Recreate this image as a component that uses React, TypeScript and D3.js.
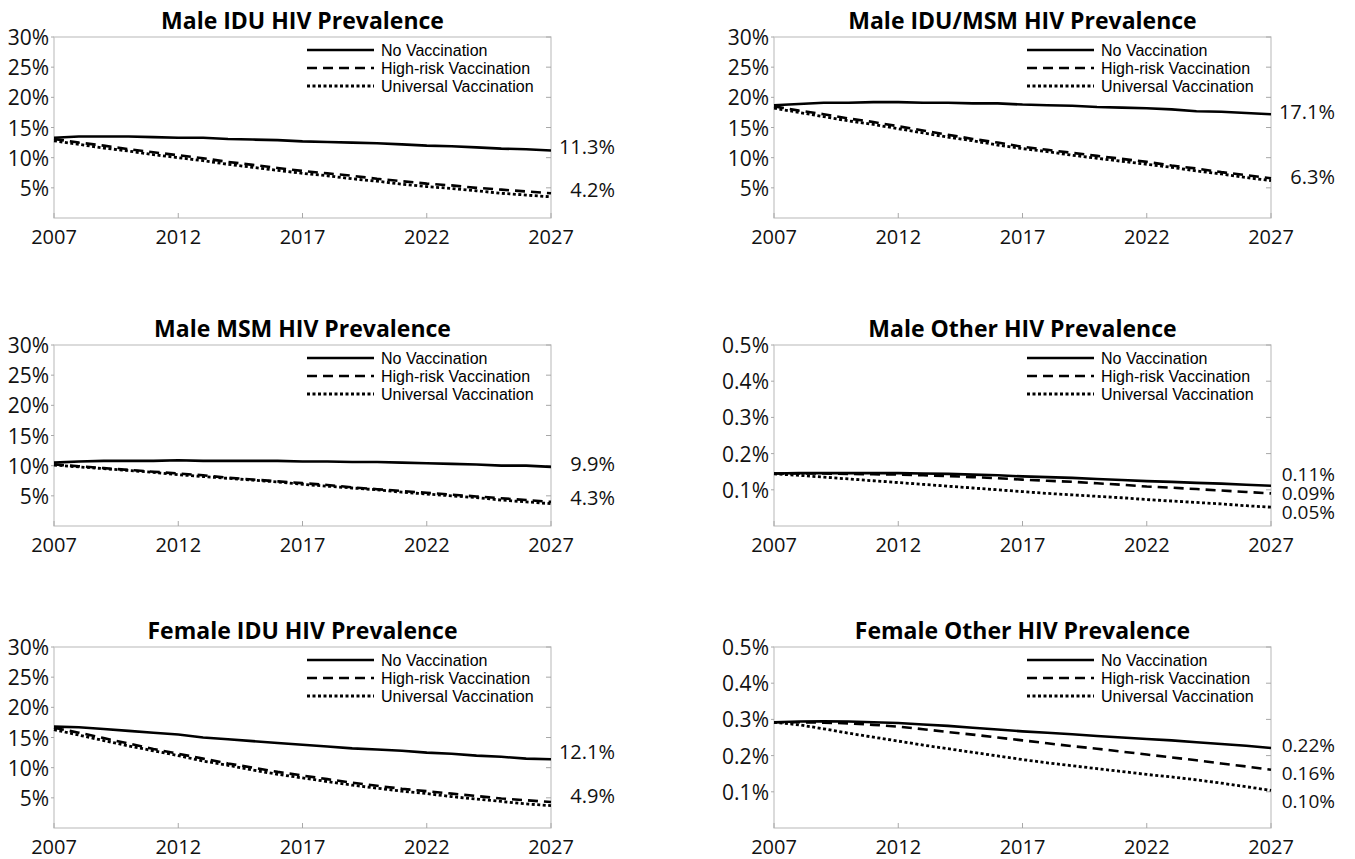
import * as d3 from 'd3';

// years of the projection
const years = [2007, 2008, 2009, 2010, 2011, 2012, 2013, 2014, 2015, 2016, 2017,
  2018, 2019, 2020, 2021, 2022, 2023, 2024, 2025, 2026, 2027];
const xTickYears = [2007, 2012, 2017, 2022, 2027];
const yTicksHigh = [5, 10, 15, 20, 25, 30];
const yTicksLow = [0.1, 0.2, 0.3, 0.4, 0.5];
const seriesNames = ['No Vaccination', 'High-risk Vaccination', 'Universal Vaccination'];

// prevalence in percent
const maleIduNone = [13.3, 13.5, 13.5, 13.5, 13.4, 13.3, 13.3, 13.1, 13.0, 12.9, 12.7, 12.6, 12.5, 12.4, 12.2, 12.0, 11.9, 11.7, 11.5, 11.4, 11.2];
const maleIduHigh = [13.1, 12.5, 12.0, 11.4, 10.9, 10.4, 9.9, 9.3, 8.8, 8.3, 7.8, 7.4, 7.0, 6.5, 6.1, 5.7, 5.4, 5.0, 4.7, 4.4, 4.1];
const maleIduUniv = [12.8, 12.2, 11.6, 11.1, 10.5, 10.0, 9.5, 8.9, 8.4, 7.9, 7.4, 7.0, 6.5, 6.1, 5.6, 5.2, 4.9, 4.5, 4.1, 3.8, 3.5];
const maleIduEnd = [11.3, 4.2];

const maleIduMsmNone = [18.7, 18.9, 19.1, 19.1, 19.2, 19.2, 19.1, 19.1, 19.0, 19.0, 18.8, 18.7, 18.6, 18.4, 18.3, 18.2, 18.0, 17.7, 17.6, 17.4, 17.2];
const maleIduMsmHigh = [18.5, 17.8, 17.2, 16.5, 15.9, 15.2, 14.5, 13.8, 13.1, 12.5, 11.8, 11.3, 10.8, 10.3, 9.8, 9.3, 8.7, 8.2, 7.6, 7.1, 6.6];
const maleIduMsmUniv = [18.2, 17.5, 16.8, 16.1, 15.5, 14.8, 14.1, 13.4, 12.8, 12.1, 11.5, 11.0, 10.4, 9.9, 9.4, 8.9, 8.4, 7.8, 7.3, 6.7, 6.2];
const maleIduMsmEnd = [17.1, 6.3];

const maleMsmNone = [10.5, 10.7, 10.8, 10.8, 10.8, 10.9, 10.8, 10.8, 10.8, 10.8, 10.7, 10.7, 10.6, 10.6, 10.5, 10.4, 10.3, 10.2, 10.0, 10.0, 9.8];
const maleMsmHigh = [10.2, 9.9, 9.6, 9.3, 9.0, 8.7, 8.4, 8.0, 7.7, 7.4, 7.1, 6.8, 6.4, 6.1, 5.8, 5.5, 5.2, 4.9, 4.6, 4.3, 4.0];
const maleMsmUniv = [10.1, 9.8, 9.5, 9.2, 8.9, 8.5, 8.2, 7.9, 7.6, 7.3, 6.9, 6.6, 6.3, 6.0, 5.6, 5.3, 5.0, 4.7, 4.3, 4.0, 3.7];
const maleMsmEnd = [9.9, 4.3];

const maleOtherNone = [0.145, 0.146, 0.146, 0.146, 0.146, 0.146, 0.145, 0.144, 0.142, 0.140, 0.137, 0.135, 0.133, 0.130, 0.127, 0.124, 0.122, 0.119, 0.117, 0.114, 0.111];
const maleOtherHigh = [0.145, 0.145, 0.145, 0.144, 0.143, 0.142, 0.140, 0.138, 0.135, 0.132, 0.128, 0.125, 0.122, 0.118, 0.114, 0.109, 0.106, 0.102, 0.098, 0.094, 0.090];
const maleOtherUniv = [0.144, 0.140, 0.135, 0.130, 0.125, 0.120, 0.115, 0.110, 0.105, 0.100, 0.095, 0.090, 0.086, 0.082, 0.078, 0.073, 0.069, 0.065, 0.061, 0.056, 0.052];
const maleOtherEnd = [0.11, 0.09, 0.05];

const femaleIduNone = [16.8, 16.7, 16.4, 16.1, 15.8, 15.5, 15.0, 14.7, 14.4, 14.1, 13.8, 13.5, 13.2, 13.0, 12.8, 12.5, 12.3, 12.0, 11.8, 11.5, 11.4];
const femaleIduHigh = [16.6, 15.8, 14.9, 14.0, 13.1, 12.3, 11.5, 10.7, 10.0, 9.3, 8.7, 8.1, 7.5, 7.0, 6.5, 6.1, 5.7, 5.3, 4.9, 4.6, 4.3];
const femaleIduUniv = [16.3, 15.4, 14.5, 13.6, 12.8, 12.0, 11.1, 10.4, 9.6, 8.9, 8.3, 7.7, 7.1, 6.6, 6.1, 5.7, 5.2, 4.8, 4.4, 4.0, 3.7];
const femaleIduEnd = [12.1, 4.9];

const femaleOtherNone = [0.292, 0.294, 0.295, 0.294, 0.292, 0.290, 0.286, 0.282, 0.277, 0.272, 0.267, 0.263, 0.259, 0.254, 0.250, 0.246, 0.242, 0.237, 0.232, 0.227, 0.221];
const femaleOtherHigh = [0.292, 0.292, 0.291, 0.289, 0.285, 0.280, 0.273, 0.265, 0.258, 0.250, 0.242, 0.234, 0.226, 0.219, 0.211, 0.203, 0.195, 0.187, 0.178, 0.170, 0.161];
const femaleOtherUniv = [0.292, 0.285, 0.274, 0.262, 0.251, 0.240, 0.229, 0.219, 0.209, 0.199, 0.189, 0.180, 0.172, 0.164, 0.156, 0.148, 0.141, 0.133, 0.124, 0.114, 0.104];
const femaleOtherEnd = [0.22, 0.16, 0.10];

const panels = [
  { title: 'Male IDU HIV Prevalence', ticks: yTicksHigh, series: [maleIduNone, maleIduHigh, maleIduUniv], end: maleIduEnd, dec: 1, gap: 18, pushDown: false },
  { title: 'Male IDU/MSM HIV Prevalence', ticks: yTicksHigh, series: [maleIduMsmNone, maleIduMsmHigh, maleIduMsmUniv], end: maleIduMsmEnd, dec: 1, gap: 18, pushDown: false },
  { title: 'Male MSM HIV Prevalence', ticks: yTicksHigh, series: [maleMsmNone, maleMsmHigh, maleMsmUniv], end: maleMsmEnd, dec: 1, gap: 18, pushDown: false },
  { title: 'Male Other HIV Prevalence', ticks: yTicksLow, series: [maleOtherNone, maleOtherHigh, maleOtherUniv], end: maleOtherEnd, dec: 2, gap: 19, pushDown: false },
  { title: 'Female IDU HIV Prevalence', ticks: yTicksHigh, series: [femaleIduNone, femaleIduHigh, femaleIduUniv], end: femaleIduEnd, dec: 1, gap: 18, pushDown: false },
  { title: 'Female Other HIV Prevalence', ticks: yTicksLow, series: [femaleOtherNone, femaleOtherHigh, femaleOtherUniv], end: femaleOtherEnd, dec: 2, gap: 28, pushDown: true },
];

const colLeft = [54, 774];
const rowTop = [37, 345, 647];
const plotW = 497;
const plotH = 181;
const dashes = [null, '10,6', '3,2.5'];
const tickFont = "'Open Sans', sans-serif";

// keep end labels apart; either keep their mean or only push the lower ones down
function dodge(pos: number[], gap: number, pushDown: boolean) {
  const p = pos.slice();
  for (let i = 1; i < p.length; i++) if (p[i] < p[i - 1] + gap) p[i] = p[i - 1] + gap;
  if (pushDown) return p;
  const shift = d3.mean(pos)! - d3.mean(p)!;
  return p.map((v) => v + shift);
}

function Panel({ cfg, left, top }: any) {
  const x = d3.scaleLinear().domain([2007, 2027]).range([left, left + plotW]);
  const maxY = cfg.ticks[cfg.ticks.length - 1];
  const y = d3.scaleLinear().domain([0, maxY]).range([top + plotH, top]);
  const line = d3.line<number>().x((_, i) => x(years[i])).y((d) => y(d));
  const labelY = dodge(cfg.end.map((v: number) => y(v) - 3), cfg.gap, cfg.pushDown);
  const bottom = top + plotH;
  const right = left + plotW;
  return (
    <g>
      <text x={left + plotW / 2} y={top - 17} textAnchor="middle" dominantBaseline="central"
        fontFamily={tickFont} fontWeight={700} fontSize={23} fill="#000">{cfg.title}</text>
      <rect x={left} y={top} width={plotW} height={plotH} fill="none" stroke="#c4c4c4" strokeWidth={1.2} />
      {cfg.ticks.map((t: number) => (
        <g key={t}>
          <line x1={left - 3} x2={left} y1={y(t)} y2={y(t)} stroke="#a8a8a8" />
          <line x1={right - 5} x2={right} y1={y(t)} y2={y(t)} stroke="#a8a8a8" />
          <text x={left - 5} y={y(t)} textAnchor="end" dominantBaseline="central"
            fontFamily={tickFont} fontSize={21} fill="#111">{`${t}%`}</text>
        </g>
      ))}
      {xTickYears.map((yr) => (
        <g key={yr}>
          <line x1={x(yr)} x2={x(yr)} y1={bottom - 5} y2={bottom} stroke="#a8a8a8" />
          <text x={x(yr)} y={bottom + 18} textAnchor="middle" dominantBaseline="central"
            fontFamily={tickFont} fontSize={20} fill="#111">{yr}</text>
        </g>
      ))}
      {cfg.series.map((s: number[], i: number) => (
        <path key={i} d={line(s) || ''} fill="none" stroke="#000" strokeWidth={i === 2 ? 2.8 : 2.6}
          strokeDasharray={dashes[i] || undefined} />
      ))}
      {seriesNames.map((n, i) => (
        <g key={n}>
          <line x1={left + 253} x2={left + 320} y1={top + 13 + i * 18} y2={top + 13 + i * 18}
            stroke="#000" strokeWidth={i === 2 ? 2.8 : 2.6} strokeDasharray={dashes[i] || undefined} />
          <text x={left + 327} y={top + 13 + i * 18} dominantBaseline="central"
            fontFamily="'Liberation Sans', Arial, sans-serif" fontSize={16} fill="#000">{n}</text>
        </g>
      ))}
      {cfg.end.map((v: number, i: number) => (
        <text key={i} x={right + 64} y={labelY[i]} textAnchor="end" dominantBaseline="central"
          fontFamily={tickFont} fontSize={cfg.dec === 2 ? 19 : 20} fill="#111">{`${v.toFixed(cfg.dec)}%`}</text>
      ))}
    </g>
  );
}

export default function App() {
  return (
    <svg width={1355} height={859} style={{ position: 'absolute', left: 0, top: 0, background: '#fff' }}>
      <rect width={1355} height={859} fill="#fff" />
      {panels.map((p, i) => (
        <Panel key={p.title} cfg={p} left={colLeft[i % 2]} top={rowTop[Math.floor(i / 2)]} />
      ))}
    </svg>
  );
}
